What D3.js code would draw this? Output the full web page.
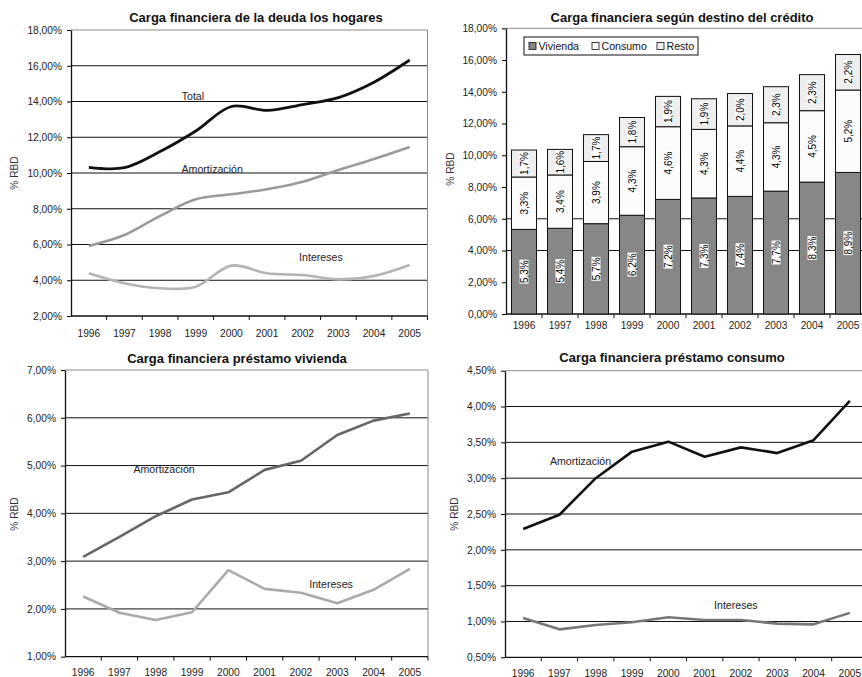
<!DOCTYPE html>
<html>
<head>
<meta charset="utf-8">
<script src="https://cdn.jsdelivr.net/npm/d3@7"></script>
<style>body{margin:0;background:#fff}</style>
</head>
<body>
<script>
// datos (% RBD)
const years = ['1996', '1997', '1998', '1999', '2000', '2001', '2002', '2003', '2004', '2005'];

// panel 1: carga financiera total
const totalCarga = [10.32, 10.30, 11.2, 12.35, 13.72, 13.5, 13.83, 14.22, 15.08, 16.32];
const amortCarga = [5.92, 6.53, 7.6, 8.53, 8.81, 9.09, 9.51, 10.17, 10.78, 11.45];
const interCarga = [4.39, 3.83, 3.55, 3.64, 4.82, 4.39, 4.29, 4.05, 4.24, 4.85];

// panel 2: segun destino del credito
const vivienda = [5.33, 5.40, 5.69, 6.22, 7.22, 7.31, 7.41, 7.74, 8.31, 8.92];
const consumo = [3.30, 3.36, 3.92, 4.32, 4.58, 4.32, 4.44, 4.31, 4.50, 5.19];
const resto = [1.70, 1.61, 1.69, 1.84, 1.91, 1.93, 2.04, 2.27, 2.27, 2.24];
const stackKeys = ['Vivienda', 'Consumo', 'Resto'];

// panel 3: prestamo vivienda
const vivAmort = [3.09, 3.51, 3.94, 4.29, 4.44, 4.91, 5.10, 5.64, 5.94, 6.09];
const vivInter = [2.26, 1.92, 1.77, 1.93, 2.81, 2.42, 2.34, 2.12, 2.40, 2.84];

// panel 4: prestamo consumo
const conAmort = [2.29, 2.49, 3.00, 3.37, 3.51, 3.30, 3.43, 3.35, 3.53, 4.08];
const conInter = [1.05, 0.89, 0.95, 0.99, 1.06, 1.02, 1.02, 0.97, 0.96, 1.12];

// tick values
const ticks1 = [2, 4, 6, 8, 10, 12, 14, 16, 18];
const ticks2 = [0, 2, 4, 6, 8, 10, 12, 14, 16, 18];
const ticks3 = [1, 2, 3, 4, 5, 6, 7];
const ticks4 = [0.5, 1, 1.5, 2, 2.5, 3, 3.5, 4, 4.5];

const font = {type: "'Liberation Sans', Arial, Helvetica, sans-serif", small: 10.2, med: 10.6, title: 13};
const pct = d => d3.format('.2f')(d).replace('.', ',') + '%';
const lbl = d => d3.format('.1f')(d).replace('.', ',') + '%';

const svg = d3.select("body")
  .append("svg")
  .attr('width', 862)
  .attr('height', 677)
  .attr('font-family', font.type);

// common frame: gridlines, border, axes, titles
function frame(p) {
  const x = d3.scaleBand().domain(years).range([p.left, p.right]);
  const y = d3.scaleLinear().domain(d3.extent(p.ticks)).range([p.bottom, p.top]);
  const g = svg.append('g');

  // gridlines
  g.selectAll('line.grid').data(p.grid).join('line')
    .attr('x1', p.left).attr('x2', p.right)
    .attr('y1', d => y(d)).attr('y2', d => y(d))
    .attr('stroke', '#111').attr('stroke-width', 1);

  // plot area border (top + right)
  g.append('path')
    .attr('d', `M${p.left},${p.top}H${p.right}V${p.bottom}`)
    .attr('fill', 'none').attr('stroke', '#8a8a8a').attr('stroke-width', 1);

  // y axis
  g.append('g')
    .attr('transform', `translate(${p.left},0)`)
    .call(d3.axisLeft(y).tickValues(p.ticks).tickFormat(pct).tickSize(4).tickSizeOuter(0).tickPadding(5))
    .call(a => a.selectAll('text').attr('font-size', font.small).attr('fill', '#222'))
    .call(a => a.select('.domain').attr('stroke', '#111').attr('stroke-width', 1.3));

  // x axis: ticks between categories, labels centered
  g.append('line')
    .attr('x1', p.left).attr('x2', p.right)
    .attr('y1', p.bottom).attr('y2', p.bottom)
    .attr('stroke', '#111').attr('stroke-width', 1.3);
  g.selectAll('line.xt').data(years).join('line')
    .attr('x1', d => x(d) + x.bandwidth())
    .attr('x2', d => x(d) + x.bandwidth())
    .attr('y1', p.bottom).attr('y2', p.bottom + 4)
    .attr('stroke', '#111');
  g.selectAll('text.xl').data(years).join('text')
    .attr('x', d => x(d) + x.bandwidth() / 2)
    .attr('y', p.xLabelY)
    .attr('text-anchor', 'middle')
    .attr('font-size', font.small)
    .attr('fill', '#222')
    .text(d => d);

  // y label
  g.append('text')
    .attr('transform', `translate(${p.yLabelX},${p.yLabelY}) rotate(-90)`)
    .attr('text-anchor', 'middle')
    .attr('font-size', font.small)
    .attr('fill', '#333')
    .text('% RBD');

  // title
  g.append('text')
    .attr('x', p.titleX).attr('y', p.titleY)
    .attr('text-anchor', 'middle')
    .attr('font-size', font.title)
    .attr('font-weight', 'bold')
    .attr('fill', '#111')
    .text(p.title);

  return {g, x, y};
}

// line panels
function linePanel(p) {
  const {g, x, y} = frame(p);
  const cx = i => x(years[0]) + x.bandwidth() / 2 + i * x.step();
  const line = d3.line()
    .x((d, i) => x(years[i]) + x.bandwidth() / 2)
    .y(d => y(d))
    .curve(p.smooth ? d3.curveCatmullRom.alpha(0.5) : d3.curveLinear);
  p.series.forEach(s => {
    g.append('path')
      .attr('d', line(s.values))
      .attr('fill', 'none')
      .attr('stroke', s.color)
      .attr('stroke-width', s.width)
      .attr('stroke-linejoin', 'round');
  });
  // series labels
  g.selectAll('text.sl').data(p.labels).join('text')
    .attr('x', d => cx(d.i))
    .attr('y', d => y(d.v))
    .attr('text-anchor', 'middle')
    .attr('font-size', font.med)
    .attr('fill', '#222')
    .text(d => d.text);
}

// *****GRAPH 1*****
linePanel({
  left: 71, right: 427.5, top: 30, bottom: 316,
  ticks: ticks1, grid: [4, 6, 8, 10, 12, 14, 16],
  xLabelY: 337, yLabelX: 18, yLabelY: 173,
  title: 'Carga financiera de la deuda los hogares', titleX: 256, titleY: 21.5,
  smooth: true,
  series: [
    {values: interCarga, color: '#b4b4b4', width: 2.6},
    {values: amortCarga, color: '#9a9a9a', width: 2.6},
    {values: totalCarga, color: '#111', width: 2.8}
  ],
  labels: [
    {text: 'Total', i: 2.92, v: 14.1},
    {text: 'Amortización', i: 3.46, v: 10.0},
    {text: 'Intereses', i: 6.51, v: 5.05}
  ]
});

// *****GRAPH 2*****
(function () {
  const p = {
    left: 506, right: 866, top: 28.3, bottom: 314,
    ticks: ticks2, grid: [4, 6],
    xLabelY: 328.5, yLabelX: 454, yLabelY: 169,
    title: 'Carga financiera según destino del crédito', titleX: 682, titleY: 21.5
  };
  const {g, y} = frame(p);
  const xb = d3.scaleBand().domain(years).range([p.left, p.right])
    .paddingInner(11 / 36).paddingOuter(5.5 / 36);
  const table = years.map((yr, i) => ({year: yr, Vivienda: vivienda[i], Consumo: consumo[i], Resto: resto[i]}));
  const series = d3.stack().keys(stackKeys)(table);
  const fills = {Vivienda: '#878787', Consumo: '#fbfbfb', Resto: '#eeeeee'};

  const layer = g.append('g').selectAll('g').data(series).join('g')
    .attr('fill', d => fills[d.key]);
  layer.selectAll('rect').data(d => d).join('rect')
    .attr('x', d => xb(d.data.year))
    .attr('y', d => y(d[1]))
    .attr('width', xb.bandwidth())
    .attr('height', d => y(d[0]) - y(d[1]))
    .attr('stroke', '#111')
    .attr('stroke-width', 1);

  // value labels
  series.forEach(s => {
    const lab = g.append('g').selectAll('g').data(s).join('g')
      .attr('transform', d => `translate(${xb(d.data.year) + xb.bandwidth() / 2},${(y(d[0]) + y(d[1])) / 2}) rotate(-90)`);
    lab.append('text')
      .attr('text-anchor', 'middle')
      .attr('dy', '0.35em')
      .attr('font-size', 10)
      .attr('fill', '#000')
      .text(d => lbl(d[1] - d[0]));
    lab.each(function () {
      const bb = d3.select(this).select('text').node().getBBox();
      d3.select(this).insert('rect', 'text')
        .attr('x', bb.x - 0.5).attr('y', bb.y + 1)
        .attr('width', bb.width + 1).attr('height', bb.height - 2)
        .attr('fill', '#fff');
    });
  });

  // legend
  const lg = g.append('g').attr('transform', 'translate(524,37)');
  lg.append('rect').attr('width', 174).attr('height', 18)
    .attr('fill', '#fff').attr('stroke', '#111');
  const sq = [5, 68, 133];
  const item = lg.selectAll('g').data(stackKeys).join('g')
    .attr('transform', (d, i) => `translate(${sq[i]},5.5)`);
  item.append('rect').attr('width', 7).attr('height', 7)
    .attr('fill', d => fills[d] === '#fbfbfb' ? '#fff' : fills[d])
    .attr('stroke', '#111').attr('stroke-width', 0.8);
  item.append('text').attr('x', 9.5).attr('y', 7.4)
    .attr('font-size', font.med).attr('fill', '#111')
    .text(d => d);
})();

// *****GRAPH 3*****
linePanel({
  left: 65, right: 428, top: 370, bottom: 656.7,
  ticks: ticks3, grid: [2, 3, 4, 5, 6],
  xLabelY: 676, yLabelX: 18, yLabelY: 514,
  title: 'Carga financiera préstamo vivienda', titleX: 237, titleY: 362.5,
  smooth: false,
  series: [
    {values: vivInter, color: '#aaaaaa', width: 2.6},
    {values: vivAmort, color: '#666666', width: 2.6}
  ],
  labels: [
    {text: 'Amortización', i: 2.23, v: 4.84},
    {text: 'Intereses', i: 6.83, v: 2.44}
  ]
});

// *****GRAPH 4*****
linePanel({
  left: 505, right: 868, top: 370.7, bottom: 657.3,
  ticks: ticks4, grid: [1, 1.5, 2, 2.5, 3, 3.5, 4],
  xLabelY: 676.5, yLabelX: 458, yLabelY: 514,
  title: 'Carga financiera préstamo consumo', titleX: 672, titleY: 361.5,
  smooth: false,
  series: [
    {values: conInter, color: '#777777', width: 2.6},
    {values: conAmort, color: '#111', width: 2.6}
  ],
  labels: [
    {text: 'Amortización', i: 1.58, v: 3.18},
    {text: 'Intereses', i: 5.86, v: 1.175}
  ]
});
</script>
</body>
</html>
